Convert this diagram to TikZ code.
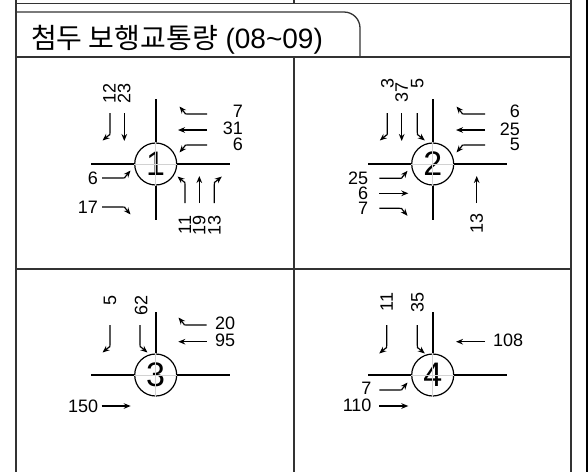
\documentclass[tikz,border=0pt]{standalone}
\usepackage{fontspec}
\setmainfont{Liberation Sans}
\newfontfamily\kor{Noto Sans CJK KR}
\usetikzlibrary{arrows.meta}
\tikzset{frame/.style={line width=1.5pt,black!80},road/.style={line width=2.4pt},
  flow/.style={line width=1.2pt,-{Stealth[length=7pt,width=5.6pt]}},
  cnt/.style={inner sep=0pt,font=\fontsize{18}{19}\selectfont},vcnt/.style={cnt,rotate=90},
  junc/.style={circle,draw,line width=1.2pt,minimum size=42pt,inner sep=0pt,font=\fontsize{34}{36}\selectfont},
  ghost/.style={gray!35,line width=0.7pt}}
\begin{document}
\begin{tikzpicture}[x=1pt,y=-1pt]
\useasboundingbox (0,0) rectangle (588,472);
\draw[frame] (16,0) -- (16,472);\draw[frame] (571,0) -- (571,472);\draw[frame] (294,0) -- (294,3.5);\draw[frame] (294,57) -- (294,472);
\draw[frame] (16,3.5) -- (571,3.5);\draw[frame,line width=1.2pt] (16,57) -- (571,57);\draw[frame,line width=1.2pt] (16,269) -- (571,269);
\draw[frame,line width=1.3pt] (16,57) -- (16,12) -- (200,12) [rounded corners=16pt] -| (360,57);
\draw[line width=2.5pt] (587,0) -- (587,472);
\node[anchor=base west,inner sep=0pt,font=\fontsize{28}{30}\selectfont] (title) at (31,48) {{\kor 첨두 보행교통량} (08\textasciitilde09)};
\node[junc] (c1) at (155.7,164) {1};
\draw[road] (c1.north) -- (155.7,99);\draw[road] (c1.south) -- (155.7,220);\draw[road] (c1.west) -- (90.7,164);\draw[road] (c1.east) -- (230,164);
\draw[ghost] (c1.north) -- (c1.south);\draw[ghost] (c1.west) -- (c1.east);
\draw[flow] (110,113) -- (110,132) .. controls (110,135) .. (108.5,135.5) -- (102.5,140.5);\draw[flow] (124.3,113) -- (124.3,141);
\draw[flow] (207,114) -- (188,114) .. controls (185,114) .. (184.5,112.5) -- (179.5,106.5);\draw[flow] (207,130) -- (178,130);
\draw[flow] (207,145) -- (188,145) .. controls (185,145) .. (184.5,146.5) -- (179.5,152.5);
\draw[flow] (102,178) -- (122,178) .. controls (125,178) .. (125.5,176.5) -- (130.5,170.5);
\draw[flow] (102,207) -- (122,207) .. controls (125,207) .. (125.5,208.5) -- (130.5,214.5);
\draw[flow] (185,203) -- (185,185) .. controls (185,182) .. (183.5,181.5) -- (177.5,176.5);\draw[flow] (199.3,203) -- (199.3,176);
\draw[flow] (214.3,203) -- (214.3,185) .. controls (214.3,182) .. (215.8,181.5) -- (221.8,176.5);
\begin{scope}[cnt]
  \node[vcnt] (n1a) at (109.3,93) {12};\node[vcnt] (n1b) at (124.3,93) {23};
  \node[anchor=east] (w1a) at (243,111.3) {7};\node[anchor=east] (w1b) at (243,128.3) {31};\node[anchor=east] (w1c) at (243,144) {6};
  \node[anchor=east] (e1a) at (98,178.3) {6};\node[anchor=east] (e1b) at (98,207.3) {17};
  \node[vcnt] (s1a) at (185,225) {11};\node[vcnt] (s1b) at (199.3,225) {19};\node[vcnt] (s1c) at (214.3,225) {13};
\end{scope}
\node[junc] (c2) at (432.7,164) {2};
\draw[road] (c2.north) -- (432.7,99);\draw[road] (c2.south) -- (432.7,220);\draw[road] (c2.west) -- (368.3,164);\draw[road] (c2.east) -- (506.7,164);
\draw[ghost] (c2.north) -- (c2.south);\draw[ghost] (c2.west) -- (c2.east);
\draw[flow] (387.3,113) -- (387.3,132) .. controls (387.3,135) .. (385.8,135.5) -- (379.8,140.5);\draw[flow] (401.7,113) -- (401.7,141);
\draw[flow] (417.3,113) -- (417.3,132) .. controls (417.3,135) .. (418.8,135.5) -- (424.8,140.5);
\draw[flow] (485,114) -- (465,114) .. controls (462,114) .. (461.5,112.5) -- (456.5,106.5);\draw[flow] (485,130) -- (456,130);
\draw[flow] (485,145) -- (465,145) .. controls (462,145) .. (461.5,146.5) -- (456.5,152.5);
\draw[flow] (379.3,178.3) -- (399,178.3) .. controls (402,178.3) .. (402.5,176.8) -- (407.5,170.8);\draw[flow] (379.3,193.3) -- (408.3,193.3);
\draw[flow] (379.3,208.3) -- (399,208.3) .. controls (402,208.3) .. (402.5,209.8) -- (407.5,215.8);
\draw[flow] (476.7,203) -- (476.7,176);
\begin{scope}[cnt]
  \node[vcnt] (n2a) at (387.3,83.3) {3};\node[vcnt] (n2b) at (401.7,92) {37};\node[vcnt] (n2c) at (417.3,83) {5};
  \node[anchor=east] (w2a) at (520,111.3) {6};\node[anchor=east] (w2b) at (520,128.8) {25};\node[anchor=east] (w2c) at (520,144.3) {5};
  \node[anchor=east] (e2a) at (368.3,177.8) {25};\node[anchor=east] (e2b) at (368.3,193.3) {6};\node[anchor=east] (e2c) at (368.3,208.8) {7};
  \node[vcnt] (s2a) at (476.7,223) {13};
\end{scope}
\node[junc] (c3) at (155.7,375) {3};
\draw[road] (c3.north) -- (155.7,311.7);\draw[road] (c3.west) -- (90.7,375);\draw[road] (c3.east) -- (230,375);
\draw[ghost] (c3.north) -- (c3.south);\draw[ghost] (c3.west) -- (c3.east);
\draw[flow] (110,325) -- (110,344) .. controls (110,347) .. (108.5,347.5) -- (102.5,352.5);
\draw[flow] (140,325) -- (140,344) .. controls (140,347) .. (141.5,347.5) -- (147.5,352.5);
\draw[flow] (206.7,325) -- (187,325) .. controls (184,325) .. (183.5,323.5) -- (178.5,317.5);\draw[flow] (206.7,341.7) -- (178.3,341.7);
\draw[flow] (101.7,406) -- (130.7,406);
\begin{scope}[cnt]
  \node[vcnt] (n3a) at (110,300) {5};\node[vcnt] (n3b) at (141.3,305) {62};
  \node[anchor=west] (w3a) at (215,323.3) {20};\node[anchor=west] (w3b) at (215,340) {95};
  \node[anchor=east] (e3a) at (98.3,406) {150};
\end{scope}
\node[junc] (c4) at (432.7,375) {4};
\draw[road] (c4.north) -- (432.7,311.7);\draw[road] (c4.west) -- (368.3,375);\draw[road] (c4.east) -- (506.7,375);
\draw[ghost] (c4.north) -- (c4.south);\draw[ghost] (c4.west) -- (c4.east);
\draw[flow] (386.7,325) -- (386.7,345) .. controls (386.7,348) .. (385.2,348.5) -- (379.2,353.5);
\draw[flow] (417.3,325) -- (417.3,345) .. controls (417.3,348) .. (418.8,348.5) -- (424.8,353.5);
\draw[flow] (485,341.7) -- (456,341.7);
\draw[flow] (379.3,390) -- (399,390) .. controls (402,390) .. (402.5,388.5) -- (407.5,382.5);\draw[flow] (379.3,406) -- (408.3,406);
\begin{scope}[cnt]
  \node[vcnt] (n4a) at (386.7,301.7) {11};\node[vcnt] (n4b) at (417.3,302) {35};
  \node[anchor=west] (w4a) at (493,340) {108};
  \node[anchor=east] (e4a) at (371.7,388.3) {7};\node[anchor=east] (e4b) at (371.7,405) {110};
\end{scope}
\end{tikzpicture}
\end{document}
